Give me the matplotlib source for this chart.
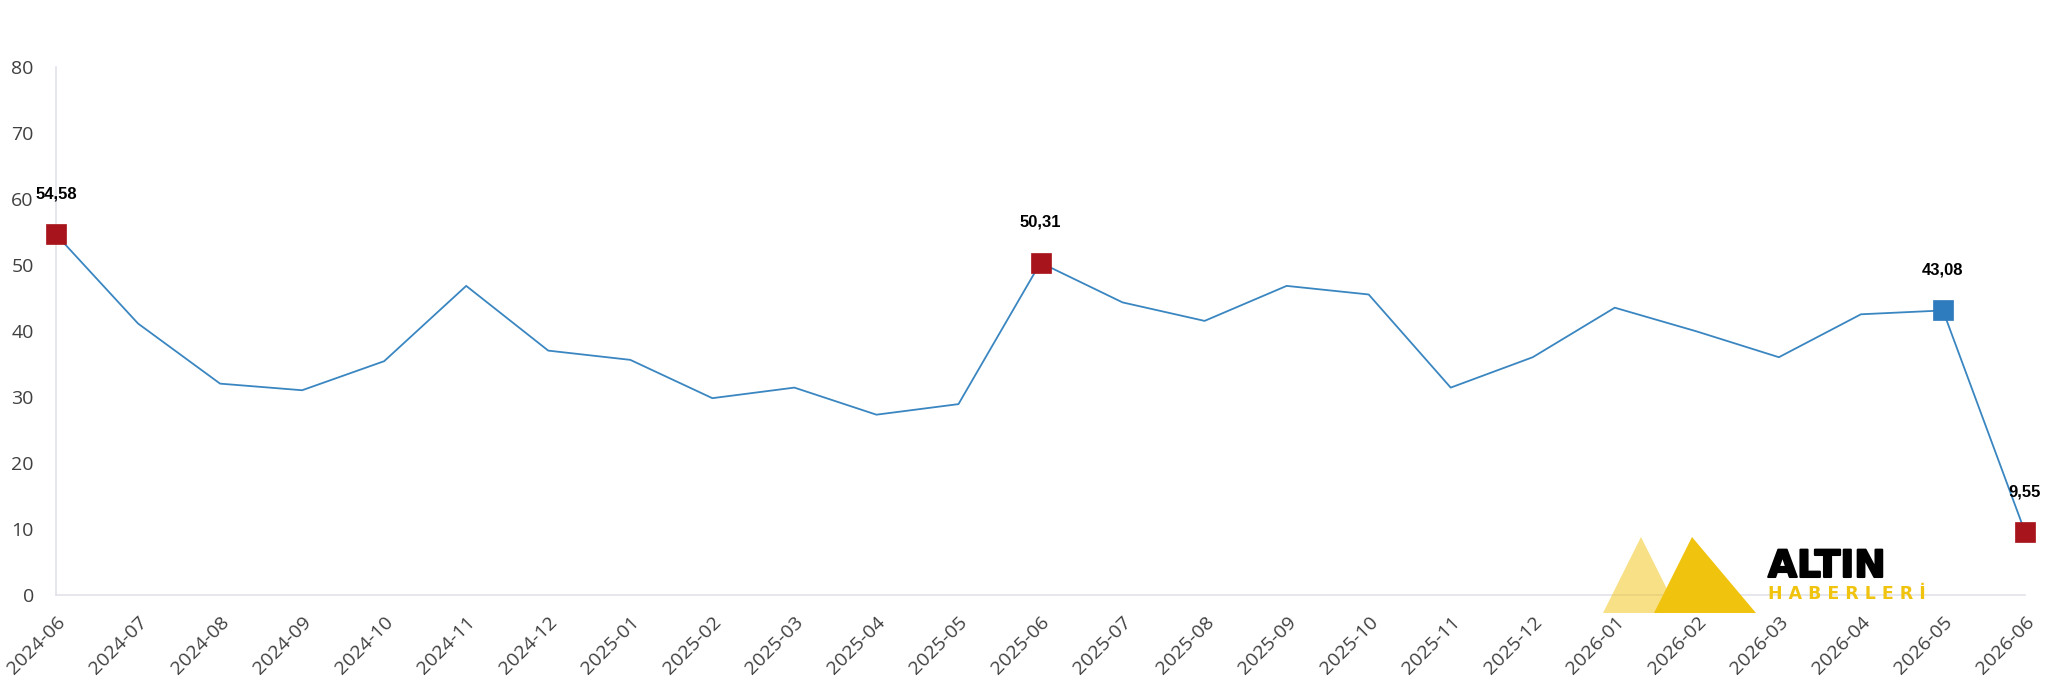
import matplotlib
matplotlib.use("Agg")
import matplotlib.pyplot as plt
import matplotlib.patheffects as pe
from matplotlib.patches import Polygon

# monthly series
months = ["2024-06", "2024-07", "2024-08", "2024-09", "2024-10", "2024-11",
          "2024-12", "2025-01", "2025-02", "2025-03", "2025-04", "2025-05",
          "2025-06", "2025-07", "2025-08", "2025-09", "2025-10", "2025-11",
          "2025-12", "2026-01", "2026-02", "2026-03", "2026-04", "2026-05",
          "2026-06"]
values = [54.58, 41.1, 32.0, 31.0, 35.4, 46.8, 37.0, 35.6, 29.8, 31.4,
          27.3, 28.9, 50.31, 44.3, 41.5, 46.8, 45.5, 31.4, 36.0, 43.5,
          39.9, 36.0, 42.5, 43.08, 9.55]

# highlighted points: index -> colour
red_points = [0, 12, 24]
blue_points = [23]

LINE = "#3a86c1"
RED = "#a8141c"
BLUE = "#2e7bbd"

W, H = 2047, 687
fig = plt.figure(figsize=(W / 100, H / 100), dpi=100)
ax = fig.add_axes([56 / W, 92 / H, (2025 - 56) / W, (595 - 66.6) / H])

x = list(range(len(months)))
ax.plot(x, values, color=LINE, lw=1.3, zorder=2, clip_on=False)

for idxs, col in ((red_points, RED), (blue_points, BLUE)):
    ax.plot([x[i] for i in idxs], [values[i] for i in idxs], ls="none",
            marker="s", ms=14.5, mfc=col, mec=col, mew=0.5, zorder=3,
            clip_on=False)
    for i in idxs:
        ax.annotate(f"{values[i]:.2f}".replace(".", ","), (x[i], values[i]),
                    xytext=(0, 29), textcoords="offset points",
                    ha="center", va="center", fontsize=12, fontweight="bold",
                    family="Liberation Sans", color="black", zorder=4)

ax.set_xlim(0, len(months) - 1)
ax.set_ylim(0, 80)
ax.set_yticks(range(0, 81, 10))
ax.set_xticks(x)
ax.set_xticklabels(months, rotation=45, ha="right", rotation_mode="anchor")

for lab in ax.get_xticklabels() + ax.get_yticklabels():
    lab.set_family("Open Sans")
    lab.set_fontsize(14)
    lab.set_color("#404040")

ax.tick_params(axis="both", length=0)
ax.tick_params(axis="y", pad=16)
ax.tick_params(axis="x", pad=13)

for s in ("top", "right"):
    ax.spines[s].set_visible(False)
for s in ("left", "bottom"):
    ax.spines[s].set_color("#e2e3ea")
    ax.spines[s].set_linewidth(1.2)


def fx(px):
    return px / W


def fy(py):
    return 1 - py / H


# logo
fig.patches.append(Polygon([(fx(1603), fy(613)), (fx(1641), fy(537)), (fx(1679), fy(613))],
                           closed=True, transform=fig.transFigure,
                           facecolor="#f0c30f", alpha=0.5, edgecolor="none", zorder=5))
fig.patches.append(Polygon([(fx(1654), fy(613)), (fx(1692), fy(537)), (fx(1756), fy(613))],
                           closed=True, transform=fig.transFigure,
                           facecolor="#f0c30f", edgecolor="none", zorder=6))
fig.text(fx(1768), fy(577), "ALTIN", fontsize=27, fontweight="heavy",
         family="DejaVu Sans", color="black", ha="left", va="baseline", zorder=7,
         path_effects=[pe.withStroke(linewidth=1.5, foreground="black")])
fig.text(fx(1768), fy(599), "H A B E R L E R İ", fontsize=12.5, fontweight="bold",
         family="DejaVu Sans", color="#f0c30f", ha="left", va="baseline", zorder=7)

fig.savefig("out.png", dpi=100, facecolor="white")
